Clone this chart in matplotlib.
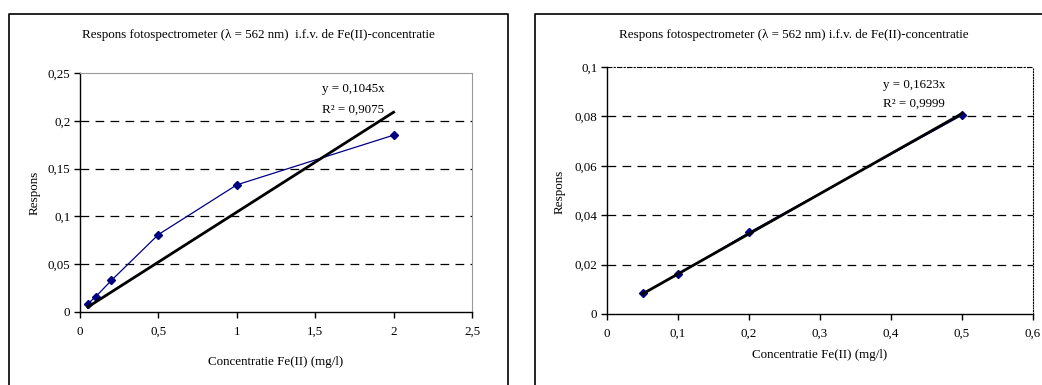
import matplotlib
matplotlib.use("Agg")
import matplotlib.pyplot as plt
from matplotlib.lines import Line2D

plt.rcParams['font.family'] = ['Liberation Serif', 'DejaVu Serif']

# left chart: full range
conc_all = [0.05, 0.1, 0.2, 0.5, 1.0, 2.0]
resp_all = [0.0085, 0.016, 0.033, 0.081, 0.133, 0.185]
slope_all = 0.1045

# right chart: low range
conc_low = [0.05, 0.1, 0.2, 0.5]
resp_low = [0.0083, 0.016, 0.033, 0.0805]
slope_low = 0.1623

xticks_all = [0, 0.5, 1, 1.5, 2, 2.5]
xlabels_all = ['0', '0,5', '1', '1,5', '2', '2,5']
yticks_all = [0, 0.05, 0.1, 0.15, 0.2, 0.25]
ylabels_all = ['0', '0,05', '0,1', '0,15', '0,2', '0,25']

xticks_low = [0, 0.1, 0.2, 0.3, 0.4, 0.5, 0.6]
xlabels_low = ['0', '0,1', '0,2', '0,3', '0,4', '0,5', '0,6']
yticks_low = [0, 0.02, 0.04, 0.06, 0.08, 0.1]
ylabels_low = ['0', '0,02', '0,04', '0,06', '0,08', '0,1']

title = 'Respons fotospectrometer (\u03bb = 562 nm)  i.f.v. de Fe(II)-concentratie'
title2 = 'Respons fotospectrometer (\u03bb = 562 nm) i.f.v. de Fe(II)-concentratie'
xlab = 'Concentratie Fe(II) (mg/l)'
ylab = 'Respons'

W, H = 1042, 385
fig = plt.figure(figsize=(W / 100, H / 100), dpi=100)

def fx(px):
    return px / W

def fy(py):
    return 1 - py / H

ax1 = fig.add_axes([fx(80), fy(312), fx(472 - 80), (312 - 73) / H])
ax2 = fig.add_axes([fx(607), fy(314), fx(1033 - 607), (314 - 67) / H])

navy = '#000080'
fs = 9.4

def style(ax, xt, xl, yt, yl, xmax, ymax):
    ax.set_xlim(0, xmax)
    ax.set_ylim(0, ymax)
    ax.set_xticks(xt)
    ax.set_xticklabels(xl)
    ax.set_yticks(yt)
    ax.set_yticklabels(yl)
    ax.tick_params(direction='out', length=4, width=1, labelsize=fs)
    ax.tick_params(axis='y', pad=3)
    ax.tick_params(axis='x', pad=6)
    for v in yt[1:-1]:
        ax.axhline(v, color='black', lw=0.9, ls=(0, (7, 5)), zorder=1)
    ax.spines['left'].set_linewidth(1)
    ax.spines['bottom'].set_linewidth(1)

# left
style(ax1, xticks_all, xlabels_all, yticks_all, ylabels_all, 2.5, 0.25)
ax1.spines['top'].set_color('#999999')
ax1.spines['right'].set_color('#999999')
ax1.plot(conc_all, resp_all, color=navy, lw=0.9, marker='D', ms=4.5, zorder=3)
fit_x = [conc_all[0], conc_all[-1]]
ax1.plot(fit_x, [slope_all * v for v in fit_x], color='black', lw=2, zorder=4)
ax1.text(1.74, 0.233, 'y = 0,1045x', ha='center', va='center', fontsize=fs)
ax1.text(1.74, 0.212, 'R\u00b2 = 0,9075', ha='center', va='center', fontsize=fs)

# right
style(ax2, xticks_low, xlabels_low, yticks_low, ylabels_low, 0.6, 0.1)
ax2.spines['top'].set_linestyle((0, (4, 2, 1, 2)))
ax2.spines['right'].set_linestyle((0, (1, 1.5)))
ax2.plot(conc_low, resp_low, color=navy, lw=0.9, marker='D', ms=4.5, zorder=3)
fit_x = [conc_low[0], conc_low[-1]]
ax2.plot(fit_x, [slope_low * v for v in fit_x], color='black', lw=2, zorder=4)
ax2.text(0.432, 0.0927, 'y = 0,1623x', ha='center', va='center', fontsize=fs)
ax2.text(0.432, 0.0850, 'R\u00b2 = 0,9999', ha='center', va='center', fontsize=fs)

# titles and labels
fig.text(fx(258), fy(35), title, ha='center', va='center', fontsize=fs)
fig.text(fx(794), fy(35), title2, ha='center', va='center', fontsize=fs)
fig.text(fx(276), fy(362), xlab, ha='center', va='center', fontsize=fs)
fig.text(fx(820), fy(355), xlab, ha='center', va='center', fontsize=fs)
fig.text(fx(35), fy(193), ylab, ha='center', va='center', rotation=90, fontsize=fs)
fig.text(fx(560), fy(192), ylab, ha='center', va='center', rotation=90, fontsize=fs)

# chart area frames
for xs, ys in [([9, 9, 508, 508], [400, 14, 14, 400]),
               ([535, 535, 1050], [400, 14, 14])]:
    fig.add_artist(Line2D([fx(v) for v in xs], [fy(v) for v in ys],
                          color='black', lw=1.2))

fig.savefig('out.png', dpi=100)
